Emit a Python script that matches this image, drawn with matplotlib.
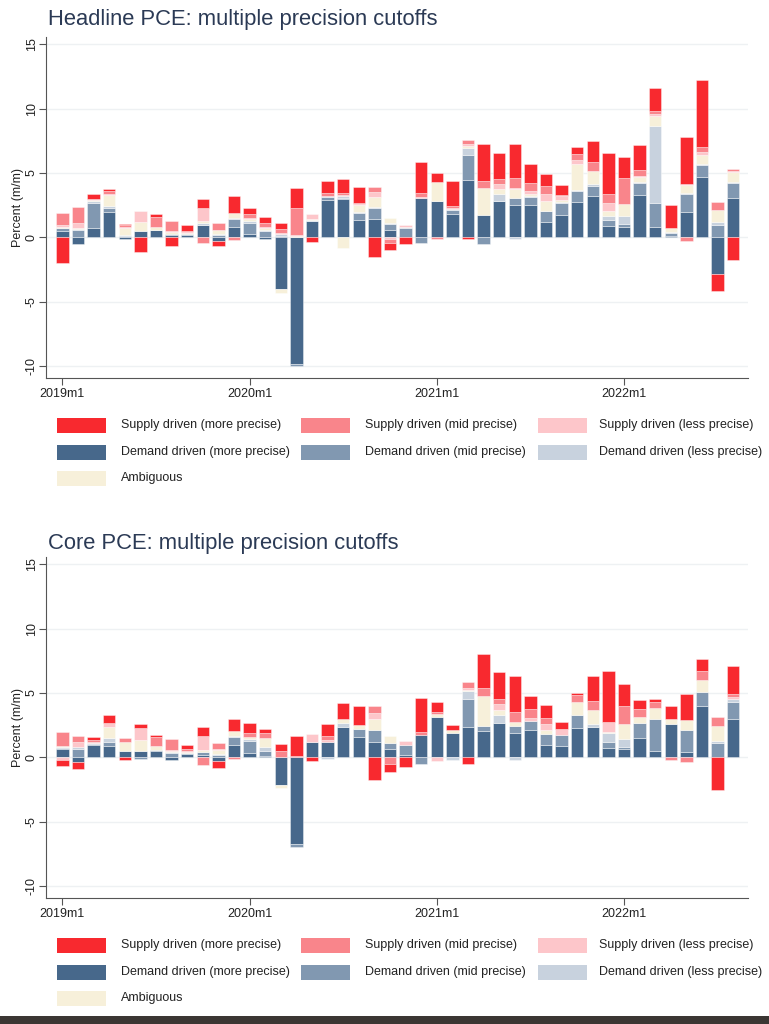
import numpy as np
import matplotlib
matplotlib.use("Agg")
import matplotlib.pyplot as plt
from matplotlib.patches import Rectangle

plt.rcParams['font.family'] = ['Liberation Sans', 'DejaVu Sans']

# ---------------- data ----------------
months = [f"{y}m{m}" for y in range(2019, 2023) for m in range(1, 13)][:44]
tick_labels = ["2019m1", "2020m1", "2021m1", "2022m1"]

series_names = ["Supply driven (more precise)", "Supply driven (mid precise)", "Supply driven (less precise)",
                "Demand driven (more precise)", "Demand driven (mid precise)", "Demand driven (less precise)",
                "Ambiguous"]

# Headline PCE
h_dmore = [0.5, -0.5, 0.73, 1.97, -0.15, 0.47, 0.55, 0.2, 0.2, 0.94, -0.3, 0.78,
           0.3, -0.15, -4.0, -9.8, 1.25, 2.94, 3.0, 1.38, 1.45, 0.6, 0.05, 3.07,
           2.8, 1.82, 4.42, 1.77, 2.8, 2.55, 2.55, 1.17, 1.77, 2.75, 3.25, 0.86,
           0.8, 3.27, 0.8, 0.1, 1.95, 4.7, -2.83, 3.07]
h_dmid = [0.2, 0.55, 1.95, 0.3, 0.15, 0.0, 0.05, 0.1, 0.1, 0.05, 0.2, 0.65,
          0.8, 0.5, 0.15, -0.2, 0.05, 0.2, 0.1, 0.52, 0.83, 0.44, 0.7, -0.45,
          0.05, 0.34, 1.95, -0.5, 0.05, 0.52, 0.6, 0.86, 0.9, 0.88, 0.72, 0.47,
          0.23, 0.96, 1.87, 0.25, 1.45, 0.96, 0.99, 1.17]
h_dless = [0.05, 0.1, 0.13, 0.2, 0.05, 0.0, 0.0, 0.0, 0.0, 0.1, 0.05, 0.05,
           0.15, 0.1, 0.1, 0.05, 0.05, 0.1, 0.15, 0.05, 0.05, 0.05, 0.05, 0.0,
           0.0, 0.05, 0.6, 0.0, 0.5, -0.15, 0.1, 0.05, 0.1, 0.05, 0.15, 0.36,
           0.6, 0.05, 6.0, 0.05, 0.05, 0.05, 0.18, 0.05]
h_amb = [0.1, 0.05, 0.1, 0.83, 0.55, 0.7, 0.25, 0.1, 0.05, 0.18, 0.3, 0.4,
         0.15, 0.1, -0.3, 0.05, 0.1, 0.0, -0.8, 0.6, 0.78, 0.45, 0.05, 0.0,
         1.43, 0.0, 0.15, 2.08, 0.44, 0.7, 0.1, 0.78, 0.1, 2.0, 1.0, 0.4,
         1.0, 0.42, 0.73, 0.3, 0.65, 0.7, 0.93, 0.8]
h_sless = [0.1, 0.4, 0.05, 0.05, 0.05, 0.86, 0.0, 0.1, 0.1, 1.0, 0.05, 0.05,
           0.1, 0.1, 0.1, 0.1, 0.4, 0.0, 0.05, 0.05, 0.45, -0.1, 0.1, 0.05,
           0.05, 0.05, 0.15, 0.0, 0.34, 0.05, 0.25, 0.5, 0.35, 0.35, 0.05, 0.55,
           0.0, 0.05, 0.2, 0.0, 0.05, 0.25, 0.05, 0.05]
h_smid = [0.95, 1.25, 0.05, 0.25, 0.15, 0.0, 0.75, 0.8, 0.05, -0.45, 0.55, -0.18,
          0.3, 0.3, 0.3, 2.1, 0.0, 0.2, 0.15, 0.05, 0.34, -0.3, 0.0, 0.3,
          -0.15, 0.15, 0.26, 0.52, 0.4, 0.78, 0.65, 0.6, 0.1, 0.47, 0.7, 0.7,
          2.0, 0.52, 0.2, 0.0, -0.3, 0.34, 0.6, 0.15]
h_smore = [-2.0, 0.0, 0.35, 0.18, 0.1, -1.1, 0.23, -0.7, 0.5, 0.73, -0.35, 1.3,
           0.5, 0.5, 0.5, 1.5, -0.35, 0.96, 1.12, 1.3, -1.5, -0.6, -0.52, 2.45,
           0.65, 2.0, -0.13, 2.86, 2.0, 2.62, 1.43, 0.96, 0.78, 0.5, 1.64, 3.25,
           1.64, 1.87, 1.82, 1.8, 3.64, 5.2, -1.3, -1.74]

# Core PCE
c_dmore = [0.65, -0.34, 0.96, 0.88, 0.52, 0.52, 0.52, -0.18, 0.26, 0.2, -0.26, 0.96,
           0.31, 0.1, -2.16, -6.7, 1.17, 1.17, 2.39, 1.56, 1.17, 0.65, 0.18, 1.74,
           3.12, 1.92, 2.39, 2.05, 2.65, 1.87, 2.13, 0.96, 0.91, 2.31, 2.39, 0.7,
           0.65, 1.53, 0.52, 2.6, 0.44, 4.03, 0.0, 2.99]
c_dmid = [0.1, 0.65, 0.1, 0.3, 0.0, -0.1, 0.05, 0.36, 0.05, 0.2, 0.2, 0.65,
          0.99, 0.42, 0.0, -0.25, 0.0, 0.0, 0.0, 0.62, 0.96, 0.49, 0.78, -0.47,
          0.0, 0.0, 2.16, 0.39, 0.0, 0.57, 0.7, 0.83, 0.83, 0.99, 0.0, 0.52,
          0.13, 1.12, 2.47, 0.0, 1.69, 1.04, 1.09, 1.3]
c_dless = [0.05, 0.13, 0.05, 0.3, 0.0, 0.0, 0.0, 0.1, 0.05, 0.0, 0.05, 0.05,
           0.1, 0.26, 0.0, 0.0, 0.0, -0.15, 0.3, 0.0, 0.0, 0.0, 0.0, 0.0,
           0.0, -0.2, 0.62, 0.0, 0.65, -0.2, 0.0, 0.0, 0.0, 0.0, 0.18, 0.65,
           0.65, 0.0, 0.0, 0.0, 0.0, 0.0, 0.18, 0.23]
c_amb = [0.1, 0.0, 0.05, 0.9, 0.7, 0.83, 0.3, 0.05, 0.05, 0.15, 0.35, 0.4,
         0.15, 0.7, -0.2, 0.0, 0.05, 0.0, 0.3, 0.34, 0.86, 0.52, 0.0, 0.0,
         0.23, 0.2, 0.1, 2.29, 0.39, 0.29, 0.0, 0.34, 0.0, 1.04, 1.12, 0.13,
         1.14, 0.52, 0.83, 0.39, 0.78, 0.96, 1.2, 0.0]
c_sless = [-0.2, 0.44, 0.05, 0.26, 0.0, 0.9, 0.0, 0.1, 0.1, 1.15, 0.05, 0.0,
           0.0, 0.0, 0.05, 0.0, 0.62, 0.18, 0.0, 0.0, 0.44, 0.0, 0.31, 0.0,
           -0.3, 0.0, 0.15, 0.0, 0.44, 0.0, 0.26, 0.47, 0.47, 0.0, 0.0, 0.78,
           0.0, 0.0, 0.0, 0.0, 0.0, 0.0, 0.0, 0.2]
c_smid = [1.05, 0.47, 0.15, 0.0, 0.26, 0.0, 0.7, 0.8, 0.13, -0.6, 0.45, -0.13,
          0.36, 0.39, 0.47, 0.13, 0.0, 0.31, 0.0, 0.0, 0.57, -0.47, 0.0, 0.26,
          0.2, 0.0, 0.4, 0.65, 0.39, 0.83, 0.68, 0.44, 0.0, 0.52, 0.7, 0.0,
          1.45, 0.6, 0.52, -0.2, -0.34, 0.65, 0.7, 0.23]
c_smore = [-0.48, -0.52, 0.26, 0.65, -0.18, 0.34, 0.2, 0.0, 0.3, 0.65, -0.52, 0.9,
           0.73, 0.34, 0.52, 1.5, -0.26, 0.94, 1.27, 1.48, -1.71, -0.65, -0.73, 2.65,
           0.78, 0.4, -0.47, 2.65, 2.1, 2.78, 1.01, 1.04, 0.52, 0.13, 1.95, 3.9,
           1.66, 0.7, 0.18, 1.04, 2.0, 0.99, -2.55, 2.16]

# ---------------- styling ----------------
col_smore = "#f8292f"
col_smid = "#f9858b"
col_sless = "#fdc6ca"
col_dmore = "#47688b"
col_dmid = "#8198b1"
col_dless = "#c8d2de"
col_amb = "#f7f0da"

W, H = 769, 1024
fig = plt.figure(figsize=(W / 100, H / 100), dpi=100)
fig.patch.set_facecolor("white")


def fx(px):
    return px / W


def fy(py):
    return 1 - py / H


def make_axes(top_px, bottom_px):
    return fig.add_axes([fx(46), fy(bottom_px), fx(748) - fx(46), fy(top_px) - fy(bottom_px)])


def draw_panel(ax, comps, title, title_y):
    x = np.arange(len(months))
    pos = np.zeros(len(x))
    neg = np.zeros(len(x))
    for vals, color in comps:
        v = np.array(vals, dtype=float)
        p = np.where(v > 0, v, 0.0)
        q = np.where(v < 0, v, 0.0)
        mp = p > 0
        mq = q < 0
        ax.bar(x[mp], p[mp], bottom=pos[mp], width=0.8, color=color,
               edgecolor=(1, 1, 1, 0.55), linewidth=0.5, zorder=3)
        ax.bar(x[mq], q[mq], bottom=neg[mq], width=0.8, color=color,
               edgecolor=(1, 1, 1, 0.55), linewidth=0.5, zorder=3)
        pos += p
        neg += q
    ax.set_xlim(-1.05, 43.95)
    ax.set_ylim(-10.9, 15.55)
    ax.set_yticks([-10, -5, 0, 5, 10, 15])
    ax.set_yticklabels(["-10", "-5", "0", "5", "10", "15"], rotation=90, va="center", fontsize=9)
    ax.set_xticks([months.index(t) for t in tick_labels])
    ax.set_xticklabels(tick_labels, fontsize=9)
    ax.grid(axis="y", color="#eef1f3", linewidth=1.0, zorder=0)
    ax.set_axisbelow(True)
    for s in ["top", "right"]:
        ax.spines[s].set_visible(False)
    for s in ["left", "bottom"]:
        ax.spines[s].set_color("#555555")
        ax.spines[s].set_linewidth(0.8)
    ax.tick_params(axis="both", direction="out", length=5, width=0.8, color="#555555",
                   labelcolor="#222222", pad=2)
    ax.tick_params(axis="y", pad=1)
    ax.set_ylabel("Percent (m/m)", fontsize=9, color="#222222", labelpad=1)
    fig.text(fx(48), fy(title_y), title, fontsize=15.8, color="#2b3a55", va="center", ha="left")


def legend(row_ys):
    items = [
        [("Supply driven (more precise)", col_smore), ("Supply driven (mid precise)", col_smid),
         ("Supply driven (less precise)", col_sless)],
        [("Demand driven (more precise)", col_dmore), ("Demand driven (mid precise)", col_dmid),
         ("Demand driven (less precise)", col_dless)],
        [("Ambiguous", col_amb)],
    ]
    sw_x = [57, 301, 538]
    tx_x = [121, 365, 599]
    for r, row in enumerate(items):
        yc = row_ys[r]
        for c, (lab, color) in enumerate(row):
            fig.add_artist(Rectangle((fx(sw_x[c]), fy(yc + 7.5)), 49 / W, 15 / H,
                                     transform=fig.transFigure, facecolor=color,
                                     edgecolor="none"))
            fig.text(fx(tx_x[c]), fy(yc), lab, fontsize=9.0, color="#222222",
                     va="center", ha="left",
                     family=["Liberation Sans Narrow", "Liberation Sans", "DejaVu Sans"])


ax1 = make_axes(37, 378)
draw_panel(ax1, [(h_dmore, col_dmore), (h_dmid, col_dmid), (h_dless, col_dless), (h_amb, col_amb),
                 (h_sless, col_sless), (h_smid, col_smid), (h_smore, col_smore)],
           "Headline PCE: multiple precision cutoffs", 20)
legend([425, 452, 478])

ax2 = make_axes(557, 898)
draw_panel(ax2, [(c_dmore, col_dmore), (c_dmid, col_dmid), (c_dless, col_dless), (c_amb, col_amb),
                 (c_sless, col_sless), (c_smid, col_smid), (c_smore, col_smore)],
           "Core PCE: multiple precision cutoffs", 543)
legend([945, 972, 998])

# dark band at bottom of the image
fig.add_artist(Rectangle((0, 0), 1, 8 / H, transform=fig.transFigure,
                         facecolor="#3b3633", edgecolor="none"))

fig.savefig("out.png", dpi=100)
